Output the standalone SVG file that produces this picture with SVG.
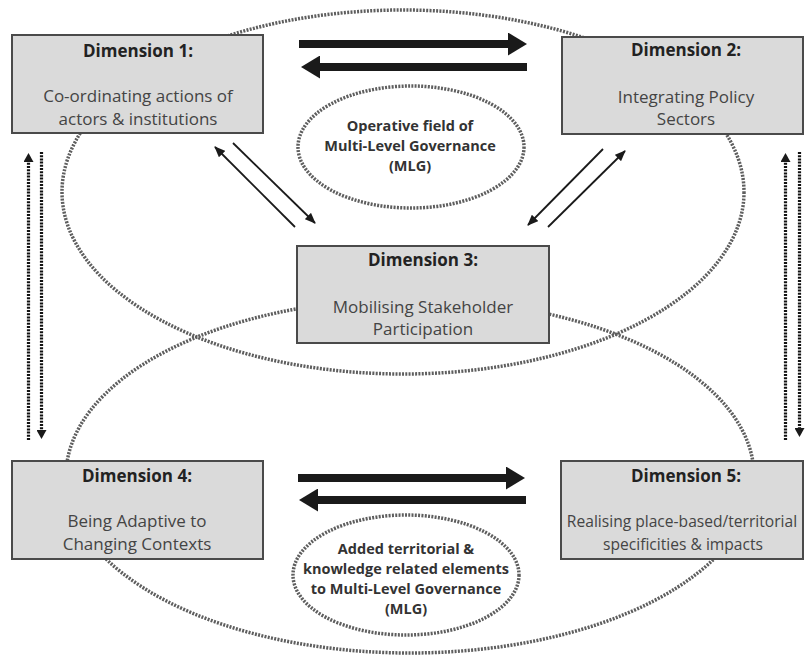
<svg xmlns="http://www.w3.org/2000/svg" width="805" height="661" viewBox="0 0 805 661">
<style>
.field{fill:none;stroke:#5e5e5e;stroke-width:3.5;stroke-dasharray:2 1.3}
.box{fill:#dadada;stroke:#4a4a4a;stroke-width:2}
.title{font-family:"Open Sans","Liberation Sans",sans-serif;font-weight:bold;font-size:17px;fill:#222;text-anchor:middle}
.body{font-family:"Open Sans","Liberation Sans",sans-serif;font-size:17px;fill:#444;text-anchor:middle}
.narrow{font-size:15.6px}
.etext{font-family:"Open Sans","Liberation Sans",sans-serif;font-weight:bold;font-size:14.5px;fill:#333;text-anchor:middle}
.thick{stroke:#1a1a1a;stroke-width:8;fill:none}
.thin{stroke:#1a1a1a;stroke-width:1.8;fill:none}
.dots{stroke:#111;stroke-width:3.2;stroke-dasharray:2 1.2;fill:none}
</style>
<defs>
<marker id="bighead" markerUnits="userSpaceOnUse" markerWidth="19" markerHeight="23" refX="0" refY="11.5" orient="auto">
<path d="M0,0 L19,11.5 L0,23 z" fill="#1a1a1a"/>
</marker>
<marker id="smallhead" markerUnits="userSpaceOnUse" markerWidth="11" markerHeight="9" refX="10" refY="4.5" orient="auto">
<path d="M0,0 L11,4.5 L0,9 z" fill="#1a1a1a"/>
</marker>
<marker id="dothead" markerUnits="userSpaceOnUse" markerWidth="9" markerHeight="10" refX="1" refY="5" orient="auto">
<path d="M0,0 L9,5 L0,10 z" fill="#1a1a1a"/>
</marker>
</defs>
<rect width="805" height="661" fill="#fff"/>
<g id="fields">
<ellipse class="field" cx="403" cy="192" rx="341" ry="182"/>
<ellipse class="field" cx="410" cy="476" rx="344" ry="177"/>
</g>
<g id="operative-field">
<ellipse class="field" cx="411" cy="147" rx="113" ry="61"/>
<text class="etext" x="410" y="131">Operative field of</text>
<text class="etext" x="410" y="151">Multi-Level Governance</text>
<text class="etext" x="410" y="171">(MLG)</text>
</g>
<g id="added-elements">
<ellipse class="field" cx="406" cy="575" rx="113" ry="60"/>
<text class="etext" x="406" y="554">Added territorial &amp;</text>
<text class="etext" x="406" y="574">knowledge related elements</text>
<text class="etext" x="406" y="594">to Multi-Level Governance</text>
<text class="etext" x="406" y="614">(MLG)</text>
</g>
<g id="dimension1">
<rect class="box" x="12" y="35" width="251" height="98"/>
<text class="title" x="138" y="57">Dimension 1:</text>
<text class="body" x="138" y="102">Co-ordinating actions of</text>
<text class="body" x="138" y="125">actors &amp; institutions</text>
</g>
<g id="dimension2">
<rect class="box" x="562" y="37" width="241" height="97"/>
<text class="title" x="686" y="56">Dimension 2:</text>
<text class="body" x="686" y="103">Integrating Policy</text>
<text class="body" x="686" y="125">Sectors</text>
</g>
<g id="dimension3">
<rect class="box" x="297" y="246" width="252" height="97"/>
<text class="title" x="423" y="266">Dimension 3:</text>
<text class="body" x="423" y="313">Mobilising Stakeholder</text>
<text class="body" x="423" y="335">Participation</text>
</g>
<g id="dimension4">
<rect class="box" x="12" y="461" width="251" height="98"/>
<text class="title" x="137" y="482">Dimension 4:</text>
<text class="body" x="137" y="527">Being Adaptive to</text>
<text class="body" x="137" y="550">Changing Contexts</text>
</g>
<g id="dimension5">
<rect class="box" x="561" y="461" width="242" height="98"/>
<text class="title" x="686" y="482">Dimension 5:</text>
<text class="body narrow" x="682" y="527">Realising place-based/territorial</text>
<text class="body narrow" x="683" y="550">specificities &amp; impacts</text>
</g>
<g id="connectors">
<line class="thick" x1="299" y1="44" x2="508" y2="44" marker-end="url(#bighead)"/>
<line class="thick" x1="527" y1="67" x2="320" y2="67" marker-end="url(#bighead)"/>
<line class="thick" x1="298" y1="478" x2="506" y2="478" marker-end="url(#bighead)"/>
<line class="thick" x1="526" y1="500" x2="318" y2="500" marker-end="url(#bighead)"/>
<line class="thin" x1="295" y1="227" x2="215" y2="147" marker-end="url(#smallhead)"/>
<line class="thin" x1="233" y1="143" x2="315" y2="223" marker-end="url(#smallhead)"/>
<line class="thin" x1="603" y1="149" x2="528" y2="225" marker-end="url(#smallhead)"/>
<line class="thin" x1="548" y1="227" x2="625" y2="151" marker-end="url(#smallhead)"/>
<line class="dots" x1="28.5" y1="440" x2="28.5" y2="161" marker-end="url(#dothead)"/>
<line class="dots" x1="41.5" y1="152" x2="41.5" y2="431" marker-end="url(#dothead)"/>
<line class="dots" x1="785.5" y1="440" x2="785.5" y2="161" marker-end="url(#dothead)"/>
<line class="dots" x1="799.5" y1="152" x2="799.5" y2="429" marker-end="url(#dothead)"/>
</g>
</svg>
